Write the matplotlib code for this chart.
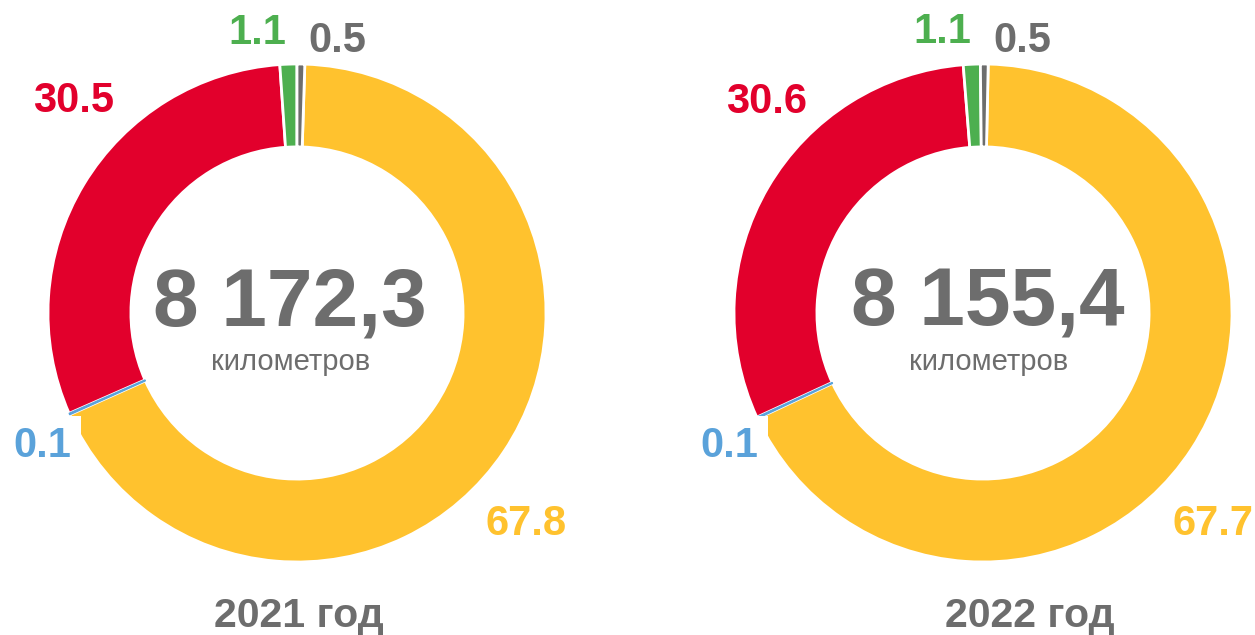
import matplotlib
matplotlib.use("Agg")
import matplotlib.pyplot as plt

# ---- data ----
years = ["2021 год", "2022 год"]
totals = ["8 172,3", "8 155,4"]
unit = "километров"
segment_names = ["yellow", "blue", "red", "green", "gray"]
values_2021 = [67.8, 0.1, 30.5, 1.1, 0.5]
values_2022 = [67.7, 0.1, 30.6, 1.1, 0.5]
label_text_2021 = ["67.8", "0.1", "30.5", "1.1", "0.5"]
label_text_2022 = ["67.7", "0.1", "30.6", "1.1", "0.5"]

colors = ["#FFC22E", "#5AA2DA", "#E2002C", "#4DAF4F", "#6D6D6D"]
text_gray = "#6D6D6D"

W, H = 1255, 635
fig = plt.figure(figsize=(W / 100, H / 100), dpi=100)
ax = fig.add_axes([0, 0, 1, 1])
ax.set_xlim(0, W)
ax.set_ylim(0, H)
ax.set_aspect("equal")
ax.axis("off")

FONT = "Liberation Sans"


def Y(y_img):
    return H - y_img


charts = [
    dict(values=values_2021, labels=label_text_2021, center=(297, 313), start=88.2,
         label_pos=[(526, 535), (42, 457), (74, 112), (257, 44), (337, 52)],
         total_pos=(290, 325), unit_pos=(291, 370), year_pos=(299, 627)),
    dict(values=values_2022, labels=label_text_2022, center=(983, 313), start=88.8,
         label_pos=[(1213, 535), (729, 457), (767, 113), (942, 43), (1022, 52)],
         total_pos=(988, 325), unit_pos=(989, 370), year_pos=(1030, 627)),
]

R = 249
ring = 0.333

for i, c in enumerate(charts):
    cx, cy = c["center"]
    wedges, _ = ax.pie(c["values"], colors=colors, startangle=c["start"],
                       counterclock=False, center=(cx, Y(cy)), radius=R,
                       wedgeprops=dict(width=R * ring, edgecolor="white", linewidth=2.0),
                       frame=True)
    # make the tiny blue segment visible
    wedges[1].set_edgecolor(colors[1])
    wedges[1].set_linewidth(0.9)
    wedges[1].set_zorder(2)

    for j, (txt, (lx, ly)) in enumerate(zip(c["labels"], c["label_pos"])):
        kw = {}
        if j == 1:
            kw["bbox"] = dict(boxstyle="square,pad=0.25", fc="white", ec="none")
        ax.text(lx, Y(ly), txt, ha="center", va="baseline", fontsize=30,
                fontweight="bold", color=colors[j], family=FONT, zorder=5, **kw)

    tx, ty = c["total_pos"]
    ax.text(tx, Y(ty), totals[i], ha="center", va="baseline", fontsize=59,
            fontweight="bold", color=text_gray, family=FONT, zorder=5)
    ux, uy = c["unit_pos"]
    ax.text(ux, Y(uy), unit, ha="center", va="baseline", fontsize=21,
            color=text_gray, family=FONT, zorder=5)
    yx, yy = c["year_pos"]
    ax.text(yx, Y(yy), years[i], ha="center", va="baseline", fontsize=29.5,
            fontweight="bold", color=text_gray, family=FONT, zorder=5)

ax.set_xlim(0, W)
ax.set_ylim(0, H)
ax.axis("off")

fig.savefig("out.png", dpi=100, facecolor="white")
